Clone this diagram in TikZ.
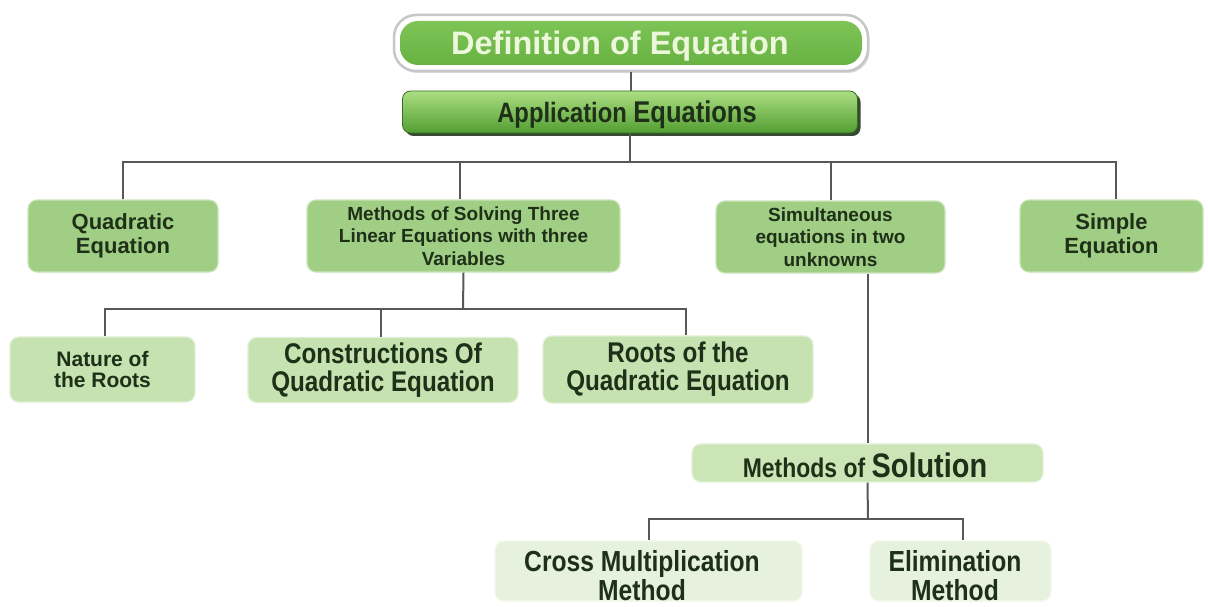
\documentclass[tikz,border=0pt]{standalone}
\usepackage{fontspec}
\setmainfont{Liberation Sans}
\newfontfamily\fW{Liberation Sans}
\newfontfamily\fN{Liberation Sans}[FakeStretch=0.85]
\usetikzlibrary{shadows}
\definecolor{linec}{RGB}{88,88,88}
\definecolor{txtc}{RGB}{30,48,24}
\definecolor{cA}{RGB}{160,206,132}
\definecolor{cB}{RGB}{197,226,176}
\definecolor{cC}{RGB}{203,229,183}
\definecolor{cD}{RGB}{230,242,221}
\definecolor{defg}{RGB}{104,178,66}
\definecolor{defgt}{RGB}{126,196,86}
\definecolor{deftext}{RGB}{236,247,220}
\definecolor{appt}{RGB}{172,222,130}
\definecolor{appb}{RGB}{82,158,50}
\definecolor{appd}{RGB}{20,40,16}
\tikzset{
  conn/.style={draw=linec, line width=2pt},
  box/.style={rectangle, rounded corners=9pt, inner sep=0pt, align=center, text=txtc},
  lvA/.style={box, fill=cA, draw=cA!55!white, line width=1.2pt, minimum height=72pt},
  lvB/.style={box, fill=cB, draw=cB!55!white, line width=1.2pt, minimum height=66pt},
  lvC/.style={box, fill=cC, draw=cC!55!white, line width=1.2pt, minimum height=38pt},
  lvD/.style={box, fill=cD, draw=cD!55!white, line width=1.2pt, minimum height=60pt},
  txtonly/.style={inner sep=0pt, align=center, text=txtc},
  defglow/.style={rectangle, rounded corners=22pt, fill=white, draw=black!22, line width=2.5pt,
    drop shadow={shadow xshift=1.5pt, shadow yshift=-2pt, fill=black!25, opacity=0.6}},
  defbox/.style={rectangle, rounded corners=18pt, top color=defgt, bottom color=defg, draw=none},
  appbox/.style={rectangle, rounded corners=8pt, top color=appt, bottom color=appb, draw=appb!70!black, line width=0.8pt,
    drop shadow={shadow xshift=3pt, shadow yshift=-3pt, fill=appd, opacity=0.85}},
  fA/.style={font=\fW\bfseries\fontsize{22}{24.5}\selectfont},
  fS/.style={font=\fW\bfseries\fontsize{19}{22.3}\selectfont},
  fNat/.style={font=\fW\bfseries\fontsize{21}{20.5}\selectfont},
  fQ/.style={font=\fN\bfseries\fontsize{28.5}{28}\selectfont},
  fX/.style={font=\fN\bfseries\fontsize{29}{29}\selectfont},
}
\begin{document}
\begin{tikzpicture}[x=1pt,y=-1pt]
\useasboundingbox[fill=white] (0,0) rectangle (1208,607);

% top
\node[defglow, minimum width=474pt, minimum height=56pt] (defo) at (631,43) {};
\node[defbox, minimum width=462pt, minimum height=44pt] (def) at (631,43) {};
\node[inner sep=0pt, text=deftext, font=\fW\bfseries\fontsize{32.5}{34}\selectfont] (deft) at (620,46) {Definition of Equation};

\node[appbox, minimum width=455pt, minimum height=42pt] (app) at (630,112) {};
\node[txtonly] (appt) at (627,115) {{\fN\bfseries\fontsize{28}{30}\selectfont Application\ }{\fN\bfseries\fontsize{30}{32}\selectfont Equations}};

% level A
\node[lvA, fA, minimum width=190pt] (quad) at (123,236) {Quadratic\\Equation};
\node[lvA, fS, minimum width=313pt] (meth3) at (463.5,236) {Methods of Solving Three\\Linear Equations with three\\Variables};
\node[lvA, fS, minimum width=229pt] (simul) at (830.5,237) {Simultaneous\\equations in two\\unknowns};
\node[lvA, fA, minimum width=183pt] (simple) at (1111.5,236) {Simple\\Equation};

% level B
\node[lvB, fNat, minimum width=185pt, minimum height=65pt] (nature) at (102.5,369.5) {Nature of\\the Roots};
\node[lvB, fQ, minimum width=270pt, minimum height=65pt] (constr) at (383,370) {Constructions Of\\Quadratic Equation};
\node[lvB, fQ, minimum width=270pt, minimum height=67pt] (roots) at (678,369.5) {Roots of the\\Quadratic Equation};

% methods of solution
\node[lvC, minimum width=351pt] (msol) at (867.5,463) {};
\node[txtonly] (msolt) at (865,465) {{\fN\bfseries\fontsize{27}{30}\selectfont Methods of\ }{\fN\bfseries\fontsize{34}{36}\selectfont Solution}};

% level D
\node[lvD, minimum width=307pt] (cross) at (648.5,571) {};
\node[lvD, minimum width=181pt] (elim) at (960.5,571) {};
\node[txtonly, fX] (crosst) at (642,576) {Cross Multiplication\\Method};
\node[txtonly, fX] (elimt) at (955,576) {Elimination\\Method};

% connectors
\coordinate (j1) at (630,162);
\coordinate (j2) at (463,309);
\coordinate (j3) at (868,519);
\draw[conn] (defo.south) -- (defo.south |- app.north);
\draw[conn] (app.south) -- (j1);
\draw[conn] (quad.north) |- (j1) -| ([xshift=4pt]simple.north);
\draw[conn] ([xshift=-4pt]meth3.north) -- ([xshift=-4pt]meth3.north |- j1);
\draw[conn] (simul.north) -- (simul.north |- j1);
\draw[conn] (meth3.south) -- (j2);
\draw[conn] ([xshift=2pt]nature.north) |- (j2) -| ([xshift=8pt]roots.north);
\draw[conn] ([xshift=-2pt]constr.north) -- ([xshift=-2pt]constr.north |- j2);
\draw[conn] (msol.north |- simul.south) -- (msol.north);
\draw[conn] (msol.south) -- (j3);
\draw[conn] (cross.north) |- (j3) -| ([xshift=2.5pt]elim.north);
\end{tikzpicture}
\end{document}
